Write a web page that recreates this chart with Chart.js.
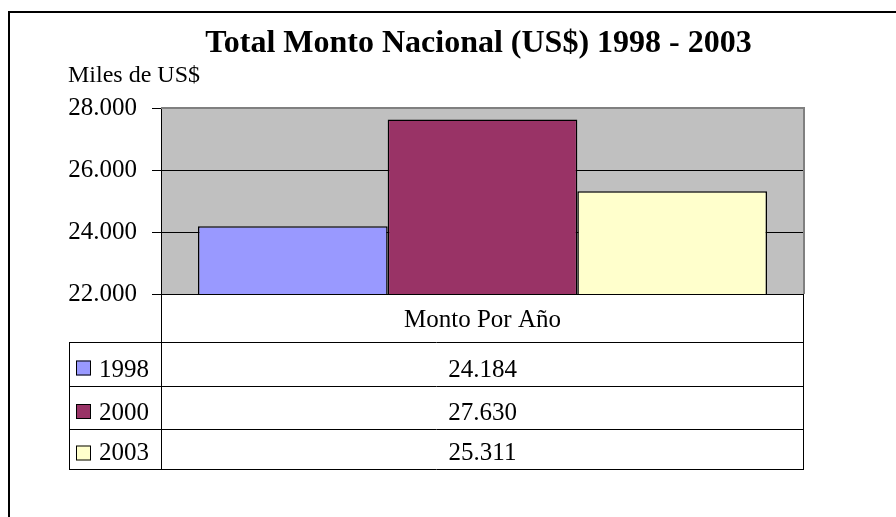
<!DOCTYPE html>
<html>
<head>
  <meta charset="UTF-8">
  <title>Total Monto Nacional</title>
  <script src="https://cdn.jsdelivr.net/npm/chart.js"></script>
  <style>
    html, body { margin: 0; padding: 0; background: #fff; }
    canvas { display: block; }
  </style>
</head>
<body>
  <canvas id="montoChart" width="896" height="517"></canvas>
  <script>
    // data
    const categories = ["Monto Por Año"];
    const seriesNames = ["1998", "2000", "2003"];
    const seriesValues = [24184, 27630, 25311];
    const yTicks = [22000, 24000, 26000, 28000];

    const seriesColors = ["#9999FF", "#993366", "#FFFFCC"];
    const FONT = "'Liberation Serif', 'Times New Roman', serif";

    function fmt(v) {
      return String(v).replace(/\B(?=(\d{3})+(?!\d))/g, ".");
    }

    // plot background, frame, data table and the texts
    const excelLook = {
      id: "excelLook",
      beforeDraw(chart) {
        const { ctx, chartArea: a } = chart;
        ctx.save();
        ctx.fillStyle = "#fff";
        ctx.fillRect(0, 0, chart.width, chart.height);
        ctx.fillStyle = "#C0C0C0";
        ctx.fillRect(a.left, a.top, a.right - a.left, a.bottom - a.top);
        // outer frame
        ctx.strokeStyle = "#000";
        ctx.lineWidth = 2;
        ctx.beginPath();
        ctx.moveTo(9, chart.height + 5);
        ctx.lineTo(9, 12);
        ctx.lineTo(chart.width + 5, 12);
        ctx.stroke();
        ctx.restore();
      },
      afterDraw(chart) {
        const { ctx, chartArea: a } = chart;
        ctx.save();
        // gray top / right border of plot
        ctx.strokeStyle = "#808080";
        ctx.lineWidth = 2;
        ctx.beginPath();
        ctx.moveTo(a.left, a.top);
        ctx.lineTo(a.right, a.top);
        ctx.lineTo(a.right, a.bottom);
        ctx.stroke();

        // data table
        const legendLeft = 69;
        const headerBottom = 342;
        const rowBottoms = [386, 429, 469];
        const cx = (a.left + a.right) / 2;
        ctx.strokeStyle = "#000";
        ctx.lineWidth = 1;
        ctx.beginPath();
        ctx.moveTo(a.left + 0.5, a.bottom);
        ctx.lineTo(a.left + 0.5, rowBottoms[2]);
        ctx.moveTo(a.right - 0.5, a.bottom);
        ctx.lineTo(a.right - 0.5, rowBottoms[2]);
        ctx.moveTo(legendLeft + 0.5, headerBottom);
        ctx.lineTo(legendLeft + 0.5, rowBottoms[2]);
        [headerBottom].concat(rowBottoms).forEach(y => {
          ctx.moveTo(legendLeft, y + 0.5);
          ctx.lineTo(a.right, y + 0.5);
        });
        ctx.stroke();

        ctx.fillStyle = "#000";
        ctx.font = "25px " + FONT;
        ctx.textAlign = "center";
        ctx.textBaseline = "alphabetic";
        ctx.fillText(categories[0], cx, 327);
        let top = headerBottom;
        seriesNames.forEach((name, i) => {
          const bottom = rowBottoms[i];
          const base = bottom - 9;
          const mid = (top + bottom) / 2 + 4;
          ctx.fillStyle = "#000";
          ctx.textAlign = "center";
          ctx.fillText(fmt(seriesValues[i]), cx, base);
          // legend key
          ctx.fillStyle = seriesColors[i];
          ctx.fillRect(76, mid - 7.5, 15, 15);
          ctx.strokeStyle = "#000";
          ctx.lineWidth = 1;
          ctx.strokeRect(76.5, mid - 7, 14, 14);
          ctx.fillStyle = "#000";
          ctx.textAlign = "left";
          ctx.fillText(name, 99, base);
          top = bottom;
        });

        // titles
        ctx.textAlign = "center";
        ctx.font = "bold 32px " + FONT;
        ctx.fillText("Total Monto Nacional (US$) 1998 - 2003", 478.5, 52);
        ctx.textAlign = "left";
        ctx.font = "24px " + FONT;
        ctx.fillText("Miles de US$", 68, 82);
        ctx.restore();
      }
    };

    new Chart(document.getElementById("montoChart"), {
      type: "bar",
      data: {
        labels: categories,
        datasets: seriesNames.map((name, i) => ({
          label: name,
          data: [seriesValues[i]],
          backgroundColor: seriesColors[i],
          borderColor: "#000",
          borderWidth: 1.5,
          borderSkipped: false,
          categoryPercentage: 0.885,
          barPercentage: 1.0
        }))
      },
      options: {
        responsive: false,
        animation: false,
        devicePixelRatio: 1,
        layout: { padding: { left: 0, top: 108, right: 92, bottom: 223 } },
        plugins: {
          legend: { display: false },
          title: { display: false },
          tooltip: { enabled: false }
        },
        scales: {
          x: { display: false },
          y: {
            min: yTicks[0],
            max: yTicks[yTicks.length - 1],
            beginAtZero: false,
            afterFit(scale) { scale.width = 161; },
            afterBuildTicks(scale) {
              scale.ticks = yTicks.map(v => ({ value: v }));
            },
            ticks: {
              color: "#000",
              padding: 15,
              font: { family: FONT, size: 25 },
              callback: v => fmt(v)
            },
            grid: {
              color: ctx => (ctx.tick && ctx.tick.value === yTicks[yTicks.length - 1]) ? "#808080" : "#000",
              tickColor: "#000",
              tickLength: 9,
              lineWidth: 1
            },
            border: { display: true, color: "#000", width: 1 }
          }
        }
      },
      plugins: [excelLook]
    });
  </script>
</body>
</html>
